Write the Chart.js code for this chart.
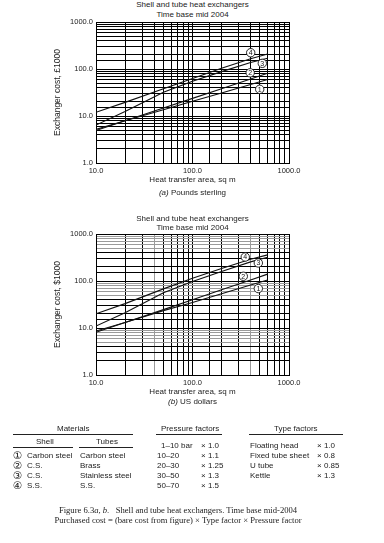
<!DOCTYPE html>
<html>
<head>
<meta charset="utf-8">
<script src="https://cdn.jsdelivr.net/npm/chart.js@4.4.1/dist/chart.umd.min.js"></script>
<style>
  body { margin: 0; background: #fff; font-family: "Liberation Sans", Arial, sans-serif; color: #222; }
  #page { position: relative; width: 384px; height: 543px; overflow: hidden; }
  canvas { position: absolute; left: 0; }
  .t { position: absolute; font-size: 8px; white-space: nowrap; line-height: 10px; }
  .c { left: 0; width: 385px; text-align: center; }
  .n { font-family: "DejaVu Sans", sans-serif; font-size: 10.5px; margin-top: -1px; }
  .rule { position: absolute; height: 0; border-top: 1px solid #222; }
  .cap { position: absolute; left: 0; width: 356px; text-align: center; font-family: "Liberation Serif", serif; font-size: 8.6px; line-height: 10px; white-space: nowrap; }
</style>
</head>
<body>
<div id="page">
  <div class="t c" style="top:0px">Shell and tube heat exchangers</div>
  <div class="t c" style="top:10px">Time base mid 2004</div>
  <canvas id="chartA" width="384" height="200" style="top:0px"></canvas>
  <div class="t c" style="top:188px"><i>(a)</i> Pounds sterling</div>

  <div class="t c" style="top:214px">Shell and tube heat exchangers</div>
  <div class="t c" style="top:223px">Time base mid 2004</div>
  <canvas id="chartB" width="384" height="200" style="top:212px"></canvas>
  <div class="t c" style="top:397px"><i>(b)</i> US dollars</div>

  <!-- factor table -->
  <div class="t" style="left:57px;top:424px">Materials</div>
  <div class="rule" style="left:13px;width:120px;top:434px"></div>
  <div class="t" style="left:161px;top:424px">Pressure factors</div>
  <div class="rule" style="left:156px;width:66px;top:434px"></div>
  <div class="t" style="left:274px;top:424px">Type factors</div>
  <div class="rule" style="left:249px;width:94px;top:434px"></div>

  <div class="t" style="left:36px;top:437px">Shell</div>
  <div class="t" style="left:96px;top:437px">Tubes</div>
  <div class="rule" style="left:13px;width:60px;top:447px"></div>
  <div class="rule" style="left:79px;width:54px;top:447px"></div>

  <div class="t" style="left:161px;top:441px">1–10 bar</div>
  <div class="t" style="left:201px;top:441px">× 1.0</div>
  <div class="t" style="left:250px;top:441px">Floating head</div>
  <div class="t" style="left:317px;top:441px">× 1.0</div>

  <div class="t n" style="left:13px;top:451px">①</div>
  <div class="t" style="left:27px;top:451px">Carbon steel</div>
  <div class="t" style="left:80px;top:451px">Carbon steel</div>
  <div class="t" style="left:157px;top:451px">10–20</div>
  <div class="t" style="left:201px;top:451px">× 1.1</div>
  <div class="t" style="left:250px;top:451px">Fixed tube sheet</div>
  <div class="t" style="left:317px;top:451px">× 0.8</div>

  <div class="t n" style="left:13px;top:461px">②</div>
  <div class="t" style="left:27px;top:461px">C.S.</div>
  <div class="t" style="left:80px;top:461px">Brass</div>
  <div class="t" style="left:157px;top:461px">20–30</div>
  <div class="t" style="left:201px;top:461px">× 1.25</div>
  <div class="t" style="left:250px;top:461px">U tube</div>
  <div class="t" style="left:317px;top:461px">× 0.85</div>

  <div class="t n" style="left:13px;top:471px">③</div>
  <div class="t" style="left:27px;top:471px">C.S.</div>
  <div class="t" style="left:80px;top:471px">Stainless steel</div>
  <div class="t" style="left:157px;top:471px">30–50</div>
  <div class="t" style="left:201px;top:471px">× 1.3</div>
  <div class="t" style="left:250px;top:471px">Kettle</div>
  <div class="t" style="left:317px;top:471px">× 1.3</div>

  <div class="t n" style="left:13px;top:481px">④</div>
  <div class="t" style="left:27px;top:481px">S.S.</div>
  <div class="t" style="left:80px;top:481px">S.S.</div>
  <div class="t" style="left:157px;top:481px">50–70</div>
  <div class="t" style="left:201px;top:481px">× 1.5</div>

  <div class="cap" style="top:505px">Figure 6.3<i>a</i>, <i>b</i>.&nbsp;&nbsp; Shell and tube heat exchangers. Time base mid-2004</div>
  <div class="cap" style="top:515px">Purchased cost = (bare cost from figure) × Type factor × Pressure factor</div>
</div>

<script>
// heat transfer area, sq m (read points along each curve)
const areas = [10, 20, 50, 100, 200, 400, 600];

// (a) Pounds sterling, cost in £1000
const gbpLine1 = [5.2, 7.9, 13.6, 20.6, 31, 47, 60];
const gbpLine2 = [4.9, 7.9, 14.8, 23.7, 38, 61, 81];
const gbpLine3 = [6.4, 12.5, 32, 55, 88, 138, 170];
const gbpLine4 = [12, 19.5, 38, 63, 104, 165, 208];

// (b) US dollars, cost in $1000
const usdLine1 = [8.6, 13.1, 23.4, 35, 53.5, 82, 105];
const usdLine2 = [8.1, 13.1, 24.6, 40, 65, 105, 140];
const usdLine3 = [11, 21, 56, 98, 160, 255, 320];
const usdLine4 = [20, 33, 68, 115, 185, 290, 360];

// circled curve numbers: [number, area, cost]
const markersA = [[1, 497, 37], [2, 396, 83], [3, 529, 132], [4, 401, 222]];
const markersB = [[1, 481, 69], [2, 336, 126], [3, 481, 242], [4, 352, 324]];

const tickFont = { family: "Liberation Sans", size: 7.5 };
const titleFont = { family: "Liberation Sans", size: 8 };

function isDecade(v) {
  const l = Math.log10(v);
  return Math.abs(l - Math.round(l)) < 1e-6;
}

function mantissa(v) {
  return Math.round(v / Math.pow(10, Math.floor(Math.log10(v) + 1e-9)));
}

function toPoints(ys) {
  return areas.map((x, i) => ({ x: x, y: ys[i] }));
}

function curveSet(lines) {
  return lines.map((ys, i) => ({
    label: 'Curve ' + (i + 1),
    data: toPoints(ys),
    borderColor: '#111',
    borderWidth: 1.1,
    pointRadius: 0,
    fill: false,
    tension: 0
  }));
}

const markerPlugin = {
  id: 'markers',
  afterDatasetsDraw(chart, args, opts) {
    const { ctx, scales } = chart;
    ctx.save();
    opts.items.forEach(([n, x, y]) => {
      const px = scales.x.getPixelForValue(x);
      const py = scales.y.getPixelForValue(y);
      ctx.beginPath();
      ctx.arc(px, py, 4.2, 0, Math.PI * 2);
      ctx.fillStyle = '#fff';
      ctx.fill();
      ctx.lineWidth = 0.9;
      ctx.strokeStyle = '#111';
      ctx.stroke();
      ctx.fillStyle = '#111';
      ctx.font = '7px "Liberation Sans"';
      ctx.textAlign = 'center';
      ctx.textBaseline = 'middle';
      ctx.fillText(String(n), px, py + 0.4);
    });
    ctx.restore();
  }
};

function makeChart(id, lines, markers, yTitle, shaded) {
  const gridY = (c) => {
    if (!shaded || !c.tick) return '#000';
    return mantissa(c.tick.value) >= 5 ? '#9a9a9a' : '#000';
  };
  const gridX = (c) => {
    if (!shaded || !c.tick) return '#000';
    return mantissa(c.tick.value) === 4 ? '#9a9a9a' : '#000';
  };
  return new Chart(document.getElementById(id), {
    type: 'line',
    data: { datasets: curveSet(lines) },
    plugins: [markerPlugin],
    options: {
      responsive: false,
      animation: false,
      layout: { padding: { top: 22, right: 95, left: 0, bottom: 0 } },
      plugins: {
        legend: { display: false },
        tooltip: { enabled: false },
        markers: { items: markers }
      },
      scales: {
        x: {
          type: 'logarithmic',
          min: 10,
          max: 1000,
          afterFit(scale) { scale.height = 37; },
          border: { color: '#000', width: 1 },
          grid: { color: gridX, lineWidth: 1, drawTicks: false },
          ticks: {
            autoSkip: false,
            maxRotation: 0,
            padding: 3,
            color: '#222',
            font: tickFont,
            callback: (v) => isDecade(v) ? Number(v).toFixed(1) : ''
          },
          title: {
            display: true,
            text: 'Heat transfer area, sq m',
            color: '#222',
            font: titleFont,
            padding: { top: 0, bottom: 15 }
          }
        },
        y: {
          type: 'logarithmic',
          min: 1,
          max: 1000,
          afterFit(scale) { scale.width = 96; },
          border: { color: '#000', width: 1 },
          grid: { color: gridY, lineWidth: 1, drawTicks: false },
          ticks: {
            autoSkip: false,
            padding: 3,
            color: '#222',
            font: tickFont,
            callback: (v) => isDecade(v) ? Number(v).toFixed(1) : ''
          },
          title: {
            display: true,
            text: yTitle,
            color: '#222',
            font: { family: "Liberation Sans", size: 8.5 },
            padding: { top: 53, bottom: 0 }
          }
        }
      }
    }
  });
}

makeChart('chartA', [gbpLine1, gbpLine2, gbpLine3, gbpLine4], markersA, 'Exchanger cost, £1000', false);
makeChart('chartB', [usdLine1, usdLine2, usdLine3, usdLine4], markersB, 'Exchanger cost, $1000', true);
</script>
</body>
</html>
